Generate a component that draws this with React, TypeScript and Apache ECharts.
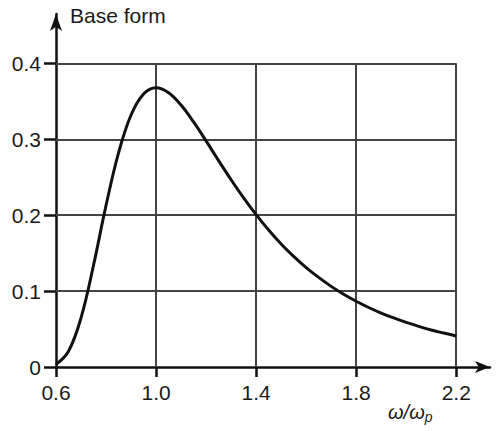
import React, { useEffect, useRef } from "react";
import * as echarts from "echarts";

// ratio omega/omega_p
const xValues = [
  0.6, 0.65, 0.7, 0.75, 0.8, 0.85, 0.9, 0.95, 1.0, 1.05, 1.1, 1.15, 1.2, 1.25, 1.3, 1.35,
  1.4, 1.45, 1.5, 1.55, 1.6, 1.65, 1.7, 1.75, 1.8, 1.85, 1.9, 1.95, 2.0, 2.05, 2.1, 2.15, 2.2,
];
// base form values
const yValues = [
  0.0034, 0.0207, 0.0647, 0.134, 0.2127, 0.282, 0.332, 0.3597, 0.3679, 0.3614, 0.345, 0.3228,
  0.2978, 0.2719, 0.2467, 0.2228, 0.2007, 0.1804, 0.1621, 0.1457, 0.131, 0.118, 0.1062,
  0.0958, 0.0866, 0.0784, 0.0711, 0.0646, 0.0587, 0.0535, 0.0488, 0.0447, 0.0409,
];
const xTicks = [0.6, 1.0, 1.4, 1.8, 2.2];
const yTicks = [0, 0.1, 0.2, 0.3, 0.4];
const gridX = [1.0, 1.4, 1.8, 2.2];
const gridY = [0.1, 0.2, 0.3, 0.4];
const xMin = 0.6;
const xGridMax = 2.2;
const yGridMax = 0.4;
const yTitle = "Base form";

export default function App() {
  const ref = useRef<HTMLDivElement>(null);
  useEffect(() => {
    if (!ref.current) return;
    const chart = echarts.init(ref.current, null, { renderer: "svg" });
    const font = "Liberation Sans, Arial, Helvetica, sans-serif";
    const gridLines: any[] = [];
    gridX.forEach((x) => gridLines.push([{ coord: [x, 0] }, { coord: [x, yGridMax] }]));
    gridY.forEach((y) => gridLines.push([{ coord: [xMin, y] }, { coord: [xGridMax, y] }]));
    chart.setOption({
      animation: false,
      backgroundColor: "#ffffff",
      grid: { left: 56, right: 8, top: 14, bottom: 64, containLabel: false },
      xAxis: {
        type: "value",
        min: 0.6,
        max: 2.335,
        splitLine: { show: false },
        axisLine: {
          show: true,
          onZero: false,
          symbol: ["none", "arrow"],
          symbolSize: [9, 15],
          lineStyle: { color: "#111", width: 2.5 },
        },
        axisTick: {
          show: true,
          length: 10,
          customValues: xTicks,
          lineStyle: { color: "#111", width: 2.5 },
        },
        axisLabel: {
          customValues: xTicks,
          formatter: (v: number) => v.toFixed(1),
          color: "#1a1a1a",
          fontSize: 21,
          fontFamily: font,
          margin: 15,
        },
      },
      yAxis: {
        type: "value",
        min: 0,
        max: 0.465,
        splitLine: { show: false },
        axisLine: {
          show: true,
          onZero: false,
          symbol: ["none", "arrow"],
          symbolSize: [9, 17],
          lineStyle: { color: "#111", width: 2.5 },
        },
        axisTick: {
          show: true,
          length: 12,
          customValues: yTicks,
          lineStyle: { color: "#111", width: 2.5 },
        },
        axisLabel: {
          customValues: yTicks,
          formatter: (v: number) => (v === 0 ? "0" : v.toFixed(1)),
          color: "#1a1a1a",
          fontSize: 21,
          fontFamily: font,
          margin: 15,
        },
      },
      series: [
        {
          type: "line",
          data: xValues.map((x, i) => [x, yValues[i]]),
          smooth: 0.4,
          showSymbol: false,
          lineStyle: { color: "#111", width: 3 },
          silent: true,
          z: 3,
          markLine: {
            silent: true,
            symbol: ["none", "none"],
            label: { show: false },
            lineStyle: { color: "#444", width: 2, type: "solid" },
            data: gridLines,
            z: 1,
          },
        },
      ],
      graphic: [
        {
          type: "text",
          left: 70,
          top: 5,
          style: { text: yTitle, fontSize: 21, fontFamily: font, fill: "#1a1a1a" },
        },
        {
          type: "text",
          left: 388,
          top: 402,
          style: {
            text: "{a|ω/ω}{b|p}",
            rich: {
              a: { fontSize: 20, fontStyle: "italic", fontFamily: font, fill: "#1a1a1a", color: "#1a1a1a" },
              b: {
                fontSize: 14,
                fontStyle: "italic",
                fontFamily: font,
                fill: "#1a1a1a",
                color: "#1a1a1a",
                padding: [10, 0, 0, 0],
              },
            },
          },
        },
      ],
    });
    return () => chart.dispose();
  }, []);
  return (
    <div
      ref={ref}
      style={{ position: "absolute", left: 0, top: 0, width: 498, height: 431 }}
    />
  );
}
